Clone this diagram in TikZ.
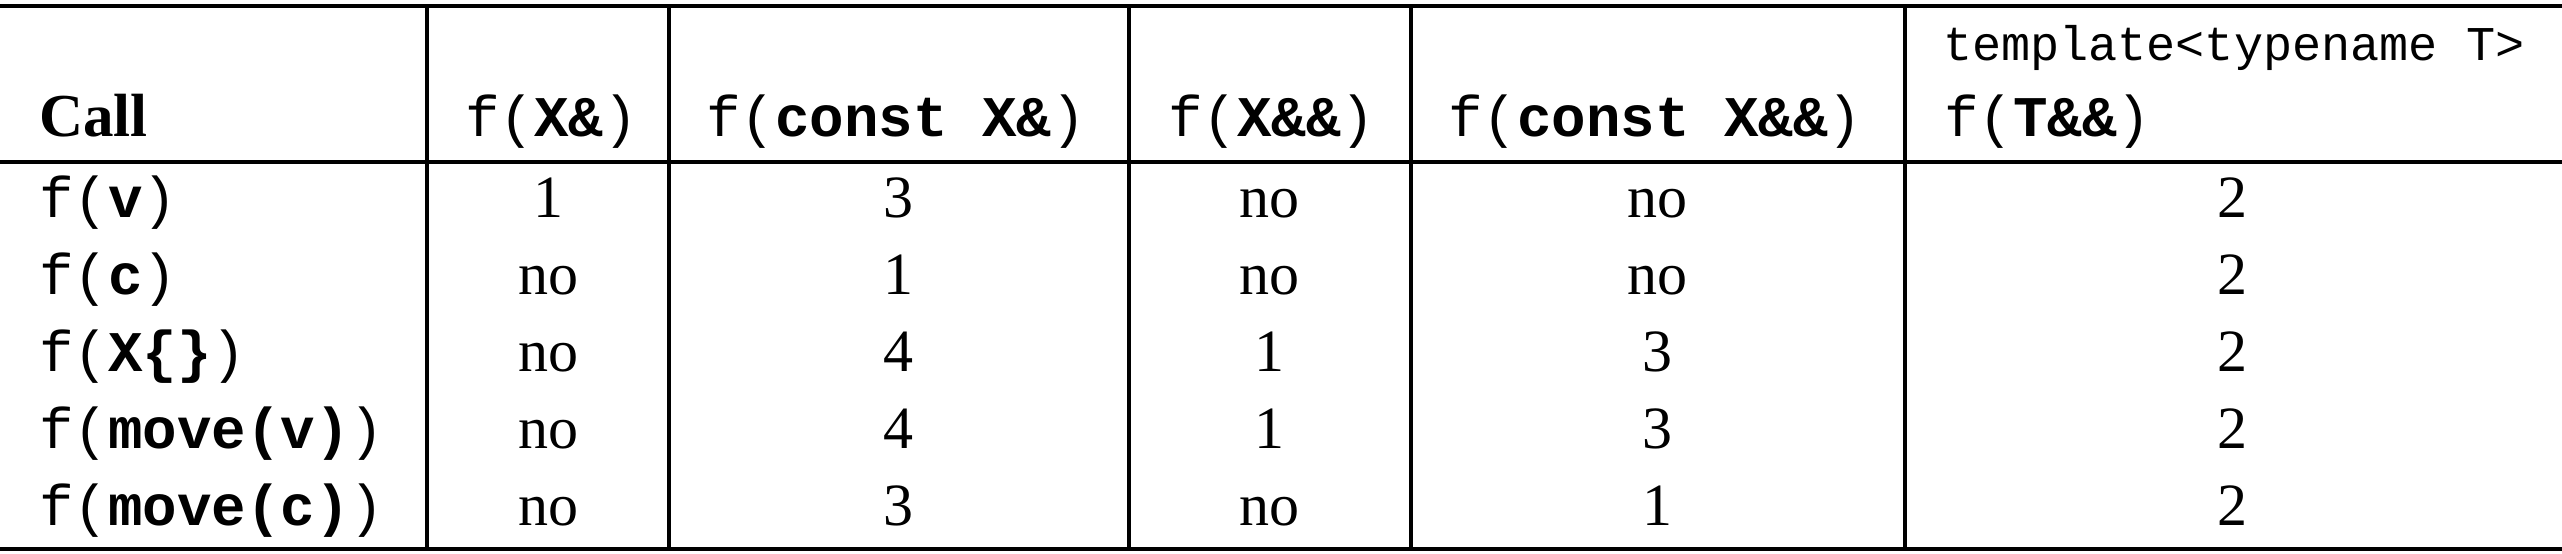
\documentclass[tikz,border=0pt]{standalone}
\usepackage{fontspec}
\setmainfont{Liberation Serif}
\setmonofont{Liberation Mono}
\newcommand\tb[1]{\textbf{#1}}
\begin{document}
\begin{tikzpicture}[x=0.2pt,y=-0.2pt,
  rulel/.style={line width=0.7pt},
  vline/.style={line width=0.72pt},
  hd/.style={anchor=base west, inner sep=0pt, font=\fontsize{11.5}{13}\selectfont\ttfamily},
  hdsm/.style={anchor=base west, inner sep=0pt, font=\fontsize{9.7}{11}\selectfont\ttfamily},
  callc/.style={anchor=base west, inner sep=0pt, font=\fontsize{11.5}{13}\selectfont\ttfamily},
  cell/.style={anchor=base, inner sep=0pt, font=\fontsize{12}{14}\selectfont}]
\useasboundingbox (0,0) rectangle (2562,554);
% rules
\draw[rulel] (0,6) -- (2562,6);
\draw[rulel] (0,162) -- (2562,162);
\draw[rulel] (0,549) -- (2562,549);
\foreach \x in {427,669,1129,1411,1905}
  \draw[vline] (\x,6) -- (\x,549);
% header
\node[anchor=base west, inner sep=0pt, font=\fontsize{12.2}{14}\selectfont\bfseries] (hcall) at (38,137) {Call};
\node[hd] (h1) at (464,137) {f(\tb{X\&})};
\node[hd] (h2) at (705,137) {f(\tb{const X\&})};
\node[hd] (h3) at (1167,137) {f(\tb{X\&\&})};
\node[hd] (h4) at (1447,137) {f(\tb{const X\&\&})};
\node[hdsm] (h5a) at (1942,61) {template<typename T>};
\node[hd] (h5) at (1943,137) {f(\tb{T\&\&})};
% first column
\node[callc] (r1) at (38,218) {f(\tb{v})};
\node[callc] (r2) at (38,295) {f(\tb{c})};
\node[callc] (r3) at (38,372) {f(\tb{X\{\}})};
\node[callc] (r4) at (38,449) {f(\tb{move(v)})};
\node[callc] (r5) at (38,526) {f(\tb{move(c)})};
% data
\foreach \y/\a/\b/\c/\d/\e [count=\i] in {218/1/3/no/no/2, 295/no/1/no/no/2, 372/no/4/1/3/2, 449/no/4/1/3/2, 526/no/3/no/1/2}{
  \node[cell] (c\i a) at (548,\y) {\a};
  \node[cell] (c\i b) at (898,\y) {\b};
  \node[cell] (c\i c) at (1269,\y) {\c};
  \node[cell] (c\i d) at (1657,\y) {\d};
  \node[cell] (c\i e) at (2232,\y) {\e};
}
\end{tikzpicture}
\end{document}
